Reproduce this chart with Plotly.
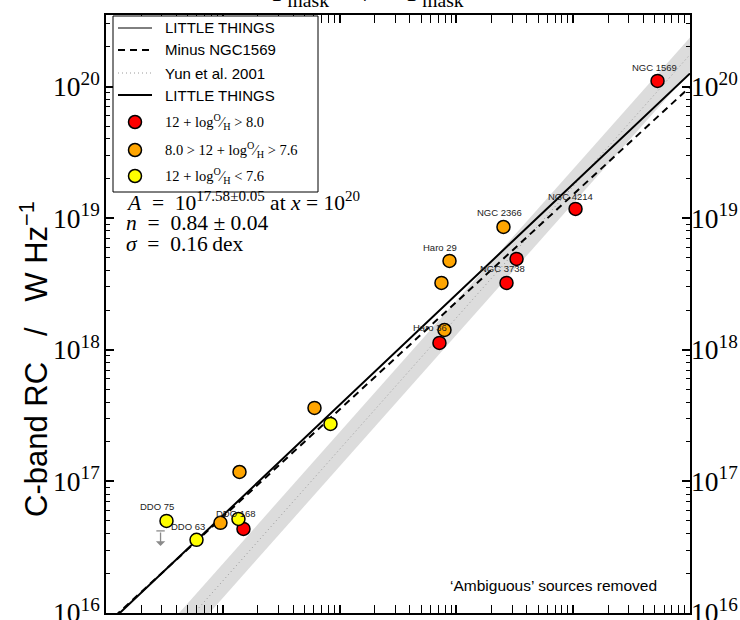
import numpy as np
import plotly.graph_objects as go

# ---- data (log10 values) ----
red_lx = [22.722, 22.020, 21.515, 21.429, 20.855, 19.177]
red_ly = [20.043, 19.070, 18.690, 18.508, 18.052, 16.638]
red_name = ["NGC 1569", "NGC 4214", "", "NGC 3738", "", ""]

orange_lx = [21.403, 20.941, 20.872, 20.898, 19.785, 19.143, 18.980]
orange_ly = [18.933, 18.675, 18.508, 18.150, 17.558, 17.071, 16.684]
orange_name = ["NGC 2366", "Haro 29", "", "Haro 36", "", "", ""]

yellow_lx = [19.922, 18.518, 18.775, 19.134]
yellow_ly = [17.436, 16.699, 16.555, 16.714]
yellow_name = ["", "DDO 75", "DDO 63", "DDO 168"]

# upper limit (log10 x, log10 y of the limit, log10 y of arrow tip)
limit_lx = 18.467
limit_ly = [16.623, 16.509]

# fits: log y = A + n (log x - 20)
fit_A, fit_n = 17.58, 0.84
minus_A, minus_n = 17.546, 0.817
# Yun et al. 2001 relation and its scatter band
yun_slope, yun_offset, yun_band = 1.0, -2.757, 0.13

x_range = [18.0, 23.0]
y_range = [15.999, 20.544]

# label offsets in pixels (dx, dy)
label_shift = {
    "NGC 1569": (-3, 13), "NGC 4214": (-5, 12), "NGC 2366": (-4, 14),
    "Haro 29": (-10, 13), "NGC 3738": (-4, 14), "Haro 36": (-14, 2),
    "DDO 75": (-10, 14), "DDO 63": (-9, 13), "DDO 168": (-2, 5),
}

SERIF = "Liberation Serif"
SANS = "Liberation Sans"

# plot-area geometry in pixels (for paper-coordinate placement)
L, R, T, B = 106, 690, 15, 613


def px(xp):
    return (xp - L) / (R - L)


def py(yp):
    return (B - yp) / (B - T)


lx_line = np.linspace(x_range[0], x_range[1], 200)
xl = 10 ** lx_line

fig = go.Figure()

# Yun band
band_lo = yun_slope * lx_line + yun_offset - yun_band
band_hi = yun_slope * lx_line + yun_offset + yun_band
fig.add_trace(go.Scatter(
    x=np.concatenate([xl, xl[::-1]]),
    y=10 ** np.concatenate([band_hi, band_lo[::-1]]),
    fill="toself", fillcolor="#dcdcdc", line=dict(width=0),
    mode="lines", hoverinfo="skip"))

fit_y = 10 ** (fit_A + fit_n * (lx_line - 20))
minus_y = 10 ** (minus_A + minus_n * (lx_line - 20))
yun_y = 10 ** (yun_slope * lx_line + yun_offset)

fig.add_trace(go.Scatter(x=xl, y=yun_y, mode="lines",
                         line=dict(color="#9a9a9a", width=1, dash="1px,3px")))
fig.add_trace(go.Scatter(x=xl, y=minus_y, mode="lines",
                         line=dict(color="black", width=2, dash="7px,5px")))
fig.add_trace(go.Scatter(x=xl, y=fit_y, mode="lines",
                         line=dict(color="black", width=2)))

groups = [
    (red_lx, red_ly, "#ff0000", "12 + log<sup>O</sup>\u2044<sub>H</sub> > 8.0"),
    (orange_lx, orange_ly, "#ffa500", "8.0 > 12 + log<sup>O</sup>\u2044<sub>H</sub> > 7.6"),
    (yellow_lx, yellow_ly, "#ffff00", "12 + log<sup>O</sup>\u2044<sub>H</sub> < 7.6"),
]
for lx, ly, col, lab in groups:
    fig.add_trace(go.Scatter(
        x=10 ** np.array(lx), y=10 ** np.array(ly), mode="markers", name=lab,
        marker=dict(size=13, color=col, line=dict(color="black", width=1.5))))

# upper-limit cap
fig.add_trace(go.Scatter(x=[10 ** limit_lx], y=[10 ** limit_ly[0]], mode="markers",
                         marker=dict(symbol="line-ew", size=6,
                                     line=dict(color="#8a8a8a", width=1.3)),
                         hoverinfo="skip"))
# carries the right-hand y axis
fig.add_trace(go.Scatter(x=[None], y=[None], yaxis="y2", hoverinfo="skip"))

annotations = []
for lx, ly, names in [(red_lx, red_ly, red_name),
                      (orange_lx, orange_ly, orange_name),
                      (yellow_lx, yellow_ly, yellow_name)]:
    for a, b, nm in zip(lx, ly, names):
        if not nm:
            continue
        dx, dy = label_shift[nm]
        annotations.append(dict(
            x=a, y=b, xref="x", yref="y", text=nm, showarrow=False,
            xshift=dx, yshift=dy, font=dict(family=SANS, size=9.5, color="#222")))

# upper-limit arrow
annotations.append(dict(
    x=limit_lx, y=limit_ly[1], ax=limit_lx, ay=limit_ly[0],
    xref="x", yref="y", axref="x", ayref="y", text="", showarrow=True,
    arrowhead=1, arrowsize=1.2, arrowwidth=1.3, arrowcolor="#8a8a8a"))

# fit statistics
stat_lines = [
    "<i>A</i>\u00a0 = \u00a010<sup>17.58\u00b10.05</sup> at <i>x</i> = 10<sup>20</sup>",
    "<i>n</i>\u00a0 = \u00a00.84 \u00b1 0.04",
    "<i>\u03c3</i>\u00a0 = \u00a00.16\u2009dex",
]
for i, t in enumerate(stat_lines):
    annotations.append(dict(
        x=px(124), y=py(201 + 21.5 * i), xref="paper", yref="paper",
        text=t, showarrow=False, xanchor="left", yanchor="middle",
        font=dict(family=SERIF, size=21.5, color="black")))

annotations.append(dict(
    x=px(553), y=py(585), xref="paper", yref="paper", xanchor="center", yanchor="middle",
    text="\u2018Ambiguous\u2019 sources removed", showarrow=False,
    font=dict(family=SANS, size=15.5, color="black")))

# y-axis title
annotations.append(dict(
    x=px(34), y=py(359), xref="paper", yref="paper", xanchor="center", yanchor="middle",
    text="C-band RC\u00a0\u00a0\u00a0/\u00a0\u00a0\u00a0W Hz<sup>\u22121</sup>", showarrow=False,
    textangle=-90, font=dict(family=SANS, size=31, color="black")))

# x-axis label of the panel above, cut by the page edge
annotations.append(dict(
    x=px(368), y=1, yshift=2, xref="paper", yref="paper", xanchor="center",
    text="P<sub>mask</sub>\u00a0\u00a0\u00a0\u00a0\u00a0/\u00a0\u00a0\u00a0\u00a0\u00a0P<sub>mask</sub>",
    showarrow=False, yanchor="bottom", font=dict(family=SERIF, size=28, color="black")))

# ---- legend, drawn as a framed key ----
shapes = [dict(type="rect", xref="paper", yref="paper", x0=px(113), x1=px(318),
               y0=py(192), y1=py(16), line=dict(color="black", width=1),
               fillcolor="white", layer="above")]
key_lines = [
    ("LITTLE THINGS", dict(color="black", width=1), 28),
    ("Minus NGC1569", dict(color="black", width=2, dash="7px,5px"), 50),
    ("Yun et al. 2001", dict(color="#9a9a9a", width=1, dash="1px,3px"), 73),
    ("LITTLE THINGS", dict(color="black", width=2), 95),
]
for text, ln, yy in key_lines:
    shapes.append(dict(type="line", xref="paper", yref="paper", x0=px(118), x1=px(152),
                       y0=py(yy), y1=py(yy), line=ln, layer="above"))
    annotations.append(dict(x=px(163), y=py(yy), xref="paper", yref="paper", text=text,
                            showarrow=False, xanchor="left", yanchor="middle",
                            font=dict(family=SANS, size=15, color="black")))
for (lx, ly, col, lab), yy in zip(groups, [122, 150, 176]):
    shapes.append(dict(type="circle", xref="paper", yref="paper",
                       xsizemode="pixel", ysizemode="pixel",
                       xanchor=px(135), yanchor=py(yy), x0=-6.5, x1=6.5, y0=-6.5, y1=6.5,
                       fillcolor=col, line=dict(color="black", width=1.5), layer="above"))
    annotations.append(dict(x=px(163), y=py(yy), xref="paper", yref="paper", text=lab,
                            showarrow=False, xanchor="left", yanchor="middle",
                            font=dict(family=SERIF, size=14.5, color="black")))

axis_common = dict(
    type="log", showgrid=False, zeroline=False, showline=True, linecolor="black",
    linewidth=1.5, ticks="inside", ticklen=8, tickwidth=1.5, tickcolor="black",
    dtick=1, tick0=0, exponentformat="power", showexponent="all",
    ticklabeloverflow="allow",
    minor=dict(ticks="inside", ticklen=4, tickwidth=1, tickcolor="black",
               showgrid=False, dtick="D1"),
    tickfont=dict(family=SERIF, size=22, color="black"))

fig.update_layout(
    width=740, height=620, margin=dict(l=L, r=740 - R, t=T, b=620 - B),
    plot_bgcolor="white", paper_bgcolor="white",
    xaxis=dict(range=x_range, mirror="allticks", automargin=False, **axis_common),
    yaxis=dict(range=y_range, mirror="allticks", automargin=False, **axis_common),
    yaxis2=dict(range=y_range, overlaying="y", side="right", automargin=False,
                **{**axis_common, "ticks": "", "showline": False,
                   "minor": dict(ticks="")}),
    annotations=annotations,
    shapes=shapes,
    showlegend=False,
)

fig.write_html("out.html")
